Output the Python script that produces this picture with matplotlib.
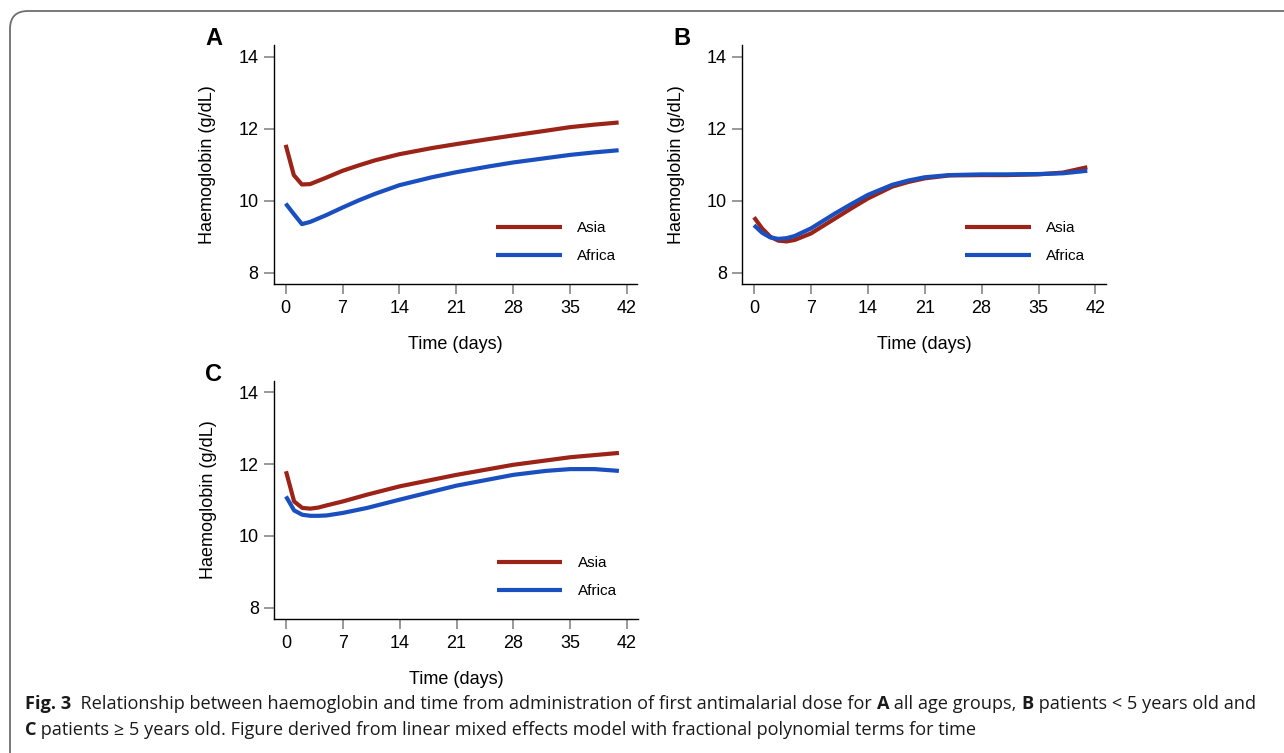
import numpy as np
import matplotlib
matplotlib.use('Agg')
import matplotlib.pyplot as plt
from matplotlib.patches import FancyBboxPatch

plt.rc('font', family='Liberation Sans')

# ---- data ----
days_a = [0, 1, 2, 3, 5, 7, 9, 11, 14, 18, 21, 25, 28, 32, 35, 38, 41]
asia_a = [11.55, 10.71, 10.45, 10.46, 10.64, 10.83, 10.98, 11.12, 11.29, 11.46, 11.57,
          11.71, 11.81, 11.94, 12.04, 12.11, 12.17]
africa_a = [9.92, 9.63, 9.35, 9.41, 9.60, 9.81, 10.01, 10.19, 10.43, 10.65, 10.79,
            10.95, 11.06, 11.18, 11.27, 11.34, 11.40]

days_b = [0, 1, 2, 3, 4, 5, 7, 10, 12, 14, 17, 19, 21, 24, 28, 31, 35, 38, 41]
asia_b = [9.54, 9.23, 9.00, 8.89, 8.87, 8.91, 9.09, 9.51, 9.79, 10.06, 10.39, 10.52,
          10.62, 10.70, 10.71, 10.71, 10.73, 10.78, 10.93]
africa_b = [9.32, 9.11, 8.98, 8.94, 8.96, 9.02, 9.23, 9.65, 9.91, 10.16, 10.44, 10.56,
            10.65, 10.71, 10.73, 10.73, 10.74, 10.76, 10.83]

days_c = [0, 1, 2, 3, 4, 5, 7, 10, 14, 21, 28, 32, 35, 38, 41]
asia_c = [11.80, 10.96, 10.78, 10.76, 10.79, 10.85, 10.96, 11.15, 11.38, 11.70, 11.98,
          12.10, 12.19, 12.25, 12.31]
africa_c = [11.10, 10.71, 10.59, 10.56, 10.56, 10.57, 10.64, 10.78, 11.01, 11.40, 11.70,
            11.81, 11.86, 11.86, 11.81]

xticks = [0, 7, 14, 21, 28, 35, 42]
yticks = [8, 10, 12, 14]
ASIA = '#9b2317'
AFRICA = '#1a4fc0'

W, H = 1284, 753
fig = plt.figure(figsize=(W / 100, H / 100), dpi=100)

# rounded frame running off the right and bottom edge
frame = FancyBboxPatch((10 / W, -0.2), 1.2, (H - 11) / H + 0.2,
                       boxstyle='round,pad=0,rounding_size=0.014',
                       transform=fig.transFigure, fc='none', ec='#6e6e6e',
                       lw=1.3, mutation_aspect=W / H)
fig.patches.append(frame)


def panel(rect, x, asia, africa, letter):
    ax = fig.add_axes(rect)
    ax.plot(x, asia, color=ASIA, lw=3, label='Asia', solid_capstyle='butt')
    ax.plot(x, africa, color=AFRICA, lw=3, label='Africa', solid_capstyle='butt')
    ax.set_xlim(-1.44, 43.3)
    ax.set_ylim(7.68, 14.32)
    ax.set_xticks(xticks)
    ax.set_yticks(yticks)
    for s in ('top', 'right'):
        ax.spines[s].set_visible(False)
    ax.spines['left'].set_linewidth(1.0)
    ax.spines['bottom'].set_linewidth(1.0)
    ax.tick_params(direction='out', length=7, width=1.2, color='#888888',
                   labelsize=13, pad=4)
    ax.set_xlabel('Time (days)', fontsize=13, labelpad=14)
    ax.set_ylabel('Haemoglobin (g/dL)', fontsize=13, labelpad=16)
    ax.legend(loc='lower left', bbox_to_anchor=(0.574, 0.03), frameon=False,
              fontsize=11, handlelength=4.3, handletextpad=1.0,
              labelspacing=0.95)
    ax.text(-0.19, 1.0, letter, transform=ax.transAxes, fontsize=17,
            fontweight='bold', va='baseline')
    return ax


panel([274 / W, 1 - 284.3 / H, 363.3 / W, 239.3 / H], days_a, asia_a, africa_a, 'A')
panel([742.3 / W, 1 - 284.3 / H, 363.7 / W, 239.3 / H], days_b, asia_b, africa_b, 'B')
panel([274.3 / W, 1 - 619.3 / H, 363.3 / W, 238.6 / H], days_c, asia_c, africa_c, 'C')

# caption with bold pieces, placed one after another
fig.canvas.draw()
renderer = fig.canvas.get_renderer()
cap_font = ['Open Sans', 'DejaVu Sans']
lines = [
    [('Fig. 3', True), ('  Relationship between haemoglobin and time from administration '
                        'of first antimalarial dose for ', False),
     ('A', True), (' all age groups, ', False), ('B', True),
     (' patients < 5 years old and', False)],
    [('C', True), (' patients \u2265 5 years old. Figure derived from linear mixed effects '
                   'model with fractional polynomial terms for time', False)],
]
baselines = [709, 735]
x0, line1_end = 25, 1262


def line_width(parts, size):
    total = 0
    for txt, bold in parts:
        t = fig.text(0, 0, txt, family=cap_font, fontsize=size,
                     fontweight='bold' if bold else 'normal')
        total += t.get_window_extent(renderer).width
        t.remove()
    return total


# size the caption so that the first line spans the same width as in the figure
cap_size = 11 * (line1_end - x0) / line_width(lines[0], 11)

for parts, yb in zip(lines, baselines):
    xpos = x0
    for txt, bold in parts:
        t = fig.text(xpos / W, 1 - yb / H, txt, family=cap_font, fontsize=cap_size,
                     fontweight='bold' if bold else 'normal', color='#1a1a1a',
                     va='baseline', ha='left')
        xpos += t.get_window_extent(renderer).width

fig.savefig('out.png', dpi=100)
